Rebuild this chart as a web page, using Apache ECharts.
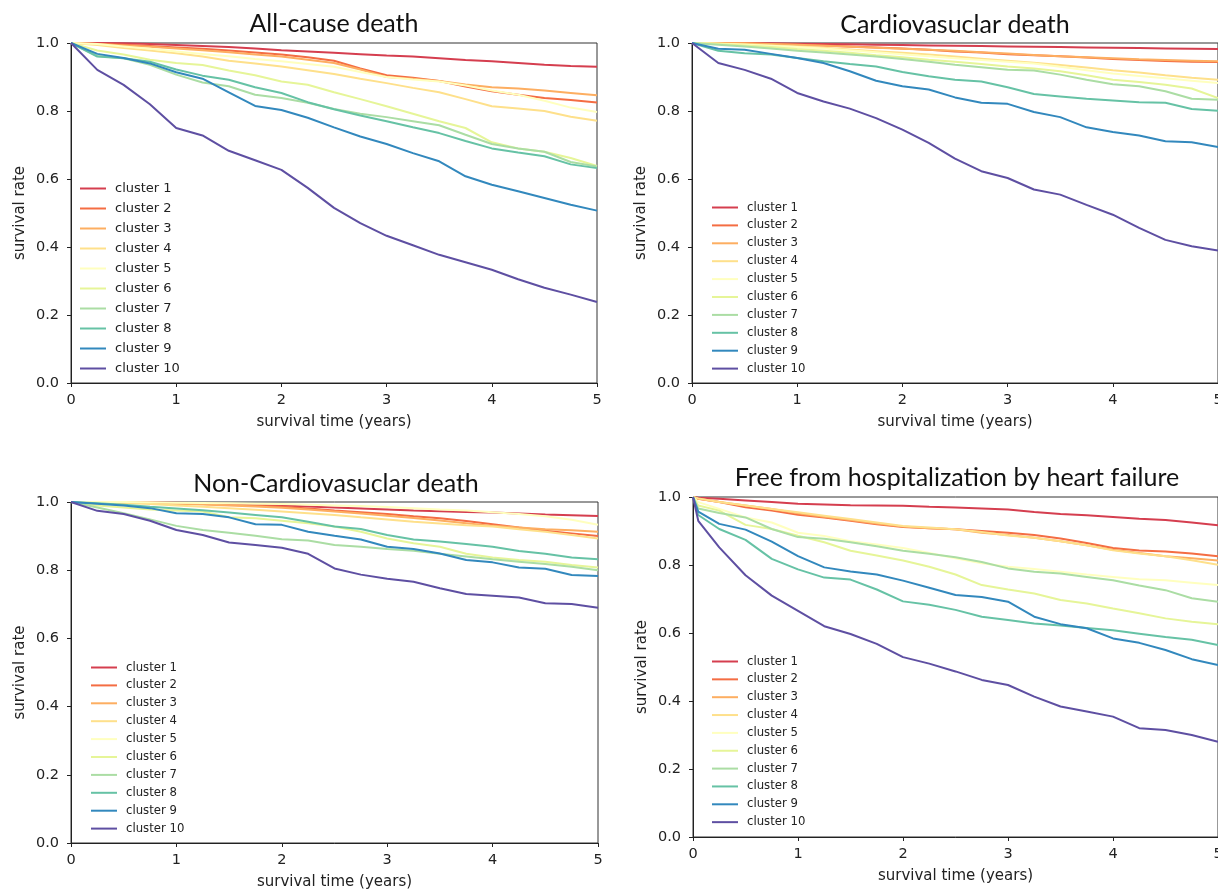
<!DOCTYPE html>
<html style="height: 100%">
<head>
	<meta charset="utf-8">
</head>
<body style="height: 100%; margin: 0; background: #fff">
<div id="container" style="width: 1218px; height: 890px"></div>
<script type="text/javascript" src="https://cdn.jsdelivr.net/npm/echarts@6/dist/echarts.min.js"></script>
<script type="text/javascript">
    // survival time (years) sample points
    var times = [0, 0.25, 0.5, 0.75, 1, 1.25, 1.5, 1.75, 2, 2.25, 2.5, 2.75, 3, 3.25, 3.5, 3.75, 4, 4.25, 4.5, 4.75, 5];
    var timesHF = [0, 0.05, 0.25, 0.5, 0.75, 1, 1.25, 1.5, 1.75, 2, 2.25, 2.5, 2.75, 3, 3.25, 3.5, 3.75, 4, 4.25, 4.5, 4.75, 5];

    var clusterNames = ['cluster 1', 'cluster 2', 'cluster 3', 'cluster 4', 'cluster 5',
        'cluster 6', 'cluster 7', 'cluster 8', 'cluster 9', 'cluster 10'];
    var yTicks = [0, 0.2, 0.4, 0.6, 0.8, 1.0];
    var titles = ['All-cause death', 'Cardiovasuclar death', 'Non-Cardiovasuclar death', 'Free from hospitalization by heart failure'];

    // survival rate per cluster (rows = cluster 1..10)
    var allCause = [
        [1, 1, 0.999, 0.997, 0.994, 0.991, 0.988, 0.984, 0.979, 0.975, 0.971, 0.967, 0.963, 0.96, 0.955, 0.95, 0.946, 0.941, 0.936, 0.932, 0.93],
        [1, 0.998, 0.995, 0.991, 0.987, 0.983, 0.978, 0.972, 0.966, 0.958, 0.948, 0.925, 0.905, 0.898, 0.888, 0.872, 0.858, 0.848, 0.838, 0.832, 0.825],
        [1, 0.997, 0.993, 0.989, 0.984, 0.979, 0.973, 0.966, 0.96, 0.951, 0.941, 0.922, 0.9, 0.895, 0.888, 0.878, 0.87, 0.866, 0.86, 0.853, 0.846],
        [1, 0.994, 0.985, 0.978, 0.97, 0.96, 0.948, 0.94, 0.931, 0.92, 0.909, 0.895, 0.882, 0.868, 0.855, 0.835, 0.814, 0.807, 0.8, 0.783, 0.771],
        [1, 0.997, 0.99, 0.983, 0.975, 0.968, 0.961, 0.953, 0.946, 0.938, 0.93, 0.915, 0.9, 0.893, 0.887, 0.875, 0.86, 0.848, 0.83, 0.81, 0.797],
        [1, 0.978, 0.966, 0.951, 0.941, 0.935, 0.919, 0.905, 0.887, 0.877, 0.855, 0.835, 0.814, 0.792, 0.77, 0.75, 0.708, 0.69, 0.68, 0.662, 0.638],
        [1, 0.962, 0.955, 0.936, 0.907, 0.884, 0.873, 0.848, 0.838, 0.824, 0.806, 0.792, 0.782, 0.77, 0.758, 0.73, 0.703, 0.69, 0.68, 0.65, 0.637],
        [1, 0.96, 0.955, 0.945, 0.922, 0.904, 0.892, 0.87, 0.853, 0.826, 0.805, 0.787, 0.77, 0.752, 0.735, 0.712, 0.69, 0.678, 0.667, 0.643, 0.632],
        [1, 0.968, 0.956, 0.94, 0.914, 0.895, 0.855, 0.815, 0.803, 0.78, 0.752, 0.725, 0.703, 0.676, 0.652, 0.608, 0.583, 0.564, 0.544, 0.524, 0.507],
        [1, 0.921, 0.877, 0.82, 0.75, 0.728, 0.683, 0.655, 0.627, 0.574, 0.515, 0.47, 0.433, 0.405, 0.377, 0.355, 0.333, 0.305, 0.28, 0.26, 0.238]
    ];
    var cardioDeath = [
        [1, 1, 1, 0.999, 0.998, 0.997, 0.996, 0.995, 0.994, 0.993, 0.992, 0.991, 0.99, 0.989, 0.988, 0.987, 0.986, 0.985, 0.984, 0.983, 0.982],
        [1, 1, 0.999, 0.997, 0.995, 0.993, 0.99, 0.987, 0.984, 0.98, 0.975, 0.972, 0.967, 0.964, 0.961, 0.957, 0.953, 0.95, 0.947, 0.945, 0.944],
        [1, 1, 0.999, 0.997, 0.995, 0.992, 0.989, 0.986, 0.983, 0.98, 0.977, 0.973, 0.969, 0.965, 0.961, 0.958, 0.955, 0.952, 0.95, 0.948, 0.946],
        [1, 0.998, 0.996, 0.993, 0.99, 0.986, 0.981, 0.976, 0.971, 0.966, 0.96, 0.954, 0.948, 0.942, 0.935, 0.928, 0.92, 0.913, 0.905, 0.898, 0.892],
        [1, 0.998, 0.995, 0.992, 0.988, 0.984, 0.979, 0.973, 0.967, 0.961, 0.955, 0.95, 0.945, 0.94, 0.93, 0.92, 0.91, 0.903, 0.896, 0.889, 0.882],
        [1, 0.997, 0.993, 0.988, 0.982, 0.977, 0.971, 0.964, 0.958, 0.951, 0.945, 0.938, 0.931, 0.925, 0.917, 0.905, 0.892, 0.885, 0.877, 0.866, 0.838],
        [1, 0.995, 0.99, 0.984, 0.977, 0.972, 0.966, 0.96, 0.953, 0.945, 0.936, 0.929, 0.921, 0.919, 0.907, 0.892, 0.879, 0.873, 0.858, 0.836, 0.833],
        [1, 0.977, 0.97, 0.966, 0.956, 0.946, 0.938, 0.931, 0.915, 0.902, 0.892, 0.887, 0.87, 0.85, 0.843, 0.836, 0.831, 0.826, 0.824, 0.806, 0.801],
        [1, 0.983, 0.98, 0.968, 0.956, 0.941, 0.917, 0.889, 0.873, 0.863, 0.84, 0.824, 0.821, 0.797, 0.782, 0.752, 0.738, 0.728, 0.711, 0.708, 0.694],
        [1, 0.941, 0.921, 0.895, 0.853, 0.828, 0.807, 0.779, 0.745, 0.706, 0.66, 0.623, 0.603, 0.569, 0.554, 0.524, 0.495, 0.456, 0.421, 0.402, 0.39]
    ];
    var nonCardioDeath = [
        [1, 1, 1, 0.999, 0.998, 0.996, 0.994, 0.992, 0.99, 0.987, 0.984, 0.981, 0.978, 0.975, 0.973, 0.971, 0.969, 0.966, 0.963, 0.961, 0.959],
        [1, 1, 0.999, 0.998, 0.996, 0.994, 0.992, 0.989, 0.986, 0.981, 0.975, 0.97, 0.965, 0.958, 0.952, 0.944, 0.935, 0.925, 0.916, 0.908, 0.9],
        [1, 1, 0.999, 0.997, 0.995, 0.993, 0.99, 0.987, 0.983, 0.978, 0.972, 0.966, 0.96, 0.953, 0.946, 0.938, 0.93, 0.925, 0.92, 0.917, 0.913],
        [1, 0.999, 0.997, 0.994, 0.99, 0.986, 0.982, 0.977, 0.972, 0.967, 0.962, 0.955, 0.949, 0.942, 0.937, 0.932, 0.928, 0.92, 0.913, 0.903, 0.893],
        [1, 1, 1, 0.999, 0.998, 0.997, 0.996, 0.995, 0.994, 0.992, 0.99, 0.988, 0.985, 0.982, 0.978, 0.975, 0.97, 0.965, 0.958, 0.948, 0.933],
        [1, 0.99, 0.984, 0.978, 0.975, 0.972, 0.955, 0.952, 0.945, 0.938, 0.928, 0.913, 0.893, 0.879, 0.869, 0.848, 0.837, 0.83, 0.825, 0.815, 0.808],
        [1, 0.984, 0.967, 0.949, 0.93, 0.918, 0.91, 0.901, 0.891, 0.887, 0.874, 0.869, 0.862, 0.857, 0.848, 0.84, 0.832, 0.825, 0.818, 0.81, 0.8],
        [1, 0.996, 0.992, 0.986, 0.981, 0.976, 0.969, 0.962, 0.955, 0.942, 0.928, 0.921, 0.903, 0.89, 0.884, 0.877, 0.869, 0.856, 0.848, 0.837, 0.832],
        [1, 0.995, 0.99, 0.982, 0.967, 0.965, 0.955, 0.935, 0.933, 0.913, 0.901, 0.89, 0.869, 0.862, 0.849, 0.83, 0.823, 0.808, 0.804, 0.786, 0.783],
        [1, 0.974, 0.965, 0.945, 0.918, 0.903, 0.881, 0.874, 0.866, 0.848, 0.805, 0.787, 0.775, 0.766, 0.747, 0.73, 0.725, 0.72, 0.703, 0.701, 0.69]
    ];
    var hfFree = [
        [1, 0.998, 0.995, 0.99, 0.985, 0.98, 0.978, 0.976, 0.975, 0.974, 0.971, 0.969, 0.966, 0.963, 0.956, 0.95, 0.946, 0.941, 0.936, 0.932, 0.925, 0.917],
        [1, 0.995, 0.985, 0.97, 0.96, 0.948, 0.94, 0.93, 0.92, 0.912, 0.908, 0.905, 0.9, 0.895, 0.888, 0.878, 0.865, 0.85, 0.843, 0.84, 0.834, 0.826],
        [1, 0.995, 0.985, 0.975, 0.965, 0.952, 0.942, 0.932, 0.922, 0.913, 0.908, 0.905, 0.895, 0.888, 0.88, 0.87, 0.858, 0.845, 0.835, 0.826, 0.82, 0.813],
        [1, 0.996, 0.985, 0.975, 0.965, 0.955, 0.945, 0.935, 0.925, 0.915, 0.91, 0.905, 0.897, 0.887, 0.88, 0.87, 0.858, 0.843, 0.834, 0.826, 0.814, 0.801],
        [1, 0.985, 0.965, 0.94, 0.925, 0.895, 0.885, 0.87, 0.86, 0.85, 0.835, 0.82, 0.805, 0.795, 0.788, 0.78, 0.772, 0.765, 0.758, 0.755, 0.748, 0.741],
        [1, 0.975, 0.96, 0.918, 0.906, 0.886, 0.867, 0.842, 0.828, 0.813, 0.795, 0.772, 0.741, 0.728, 0.716, 0.697, 0.687, 0.672, 0.658, 0.643, 0.633, 0.626],
        [1, 0.966, 0.953, 0.94, 0.906, 0.882, 0.877, 0.867, 0.855, 0.842, 0.833, 0.823, 0.809, 0.79, 0.78, 0.775, 0.765, 0.755, 0.74, 0.726, 0.702, 0.692],
        [1, 0.947, 0.906, 0.874, 0.818, 0.787, 0.763, 0.757, 0.728, 0.693, 0.683, 0.668, 0.648, 0.638, 0.628, 0.622, 0.615, 0.608, 0.598, 0.588, 0.58, 0.565],
        [1, 0.957, 0.921, 0.904, 0.869, 0.826, 0.793, 0.781, 0.772, 0.754, 0.733, 0.712, 0.706, 0.692, 0.648, 0.626, 0.614, 0.584, 0.571, 0.55, 0.523, 0.506],
        [1, 0.93, 0.852, 0.77, 0.71, 0.665, 0.62, 0.597, 0.568, 0.529, 0.51, 0.487, 0.462, 0.447, 0.413, 0.384, 0.369, 0.354, 0.32, 0.315, 0.3, 0.28]
    ];

    var colors = ['#d53e4f', '#f46d43', '#fdae61', '#fee08b', '#ffffbf',
        '#e6f598', '#abdda4', '#66c2a5', '#3288bd', '#5e4fa2'];

    var panelData = [
        {rows: allCause, t: times},
        {rows: cardioDeath, t: times},
        {rows: nonCardioDeath, t: times},
        {rows: hfFree, t: timesHF}
    ];

    var grids = [
        {left: 71, top: 43, width: 526, height: 340},
        {left: 692, top: 43, width: 526, height: 340},
        {left: 71, top: 502, width: 527, height: 341},
        {left: 693, top: 497, width: 525, height: 340}
    ];
    var titlePos = [{x: 334, y: 11}, {x: 955, y: 12}, {x: 336, y: 471}, {x: 957, y: 465}];
    var legendPos = [
        {x: 80, y: 181, size: 13, lh: 15, gap: 5},
        {x: 712, y: 201, size: 11.7, lh: 13, gap: 4.9},
        {x: 91, y: 661, size: 11.7, lh: 13, gap: 4.9},
        {x: 712, y: 655, size: 11.7, lh: 13, gap: 4.85}
    ];

    var axisColor = '#222';
    var font = 'DejaVu Sans';

    var dom = document.getElementById("container");
    var myChart = echarts.init(dom, null, {renderer: 'canvas'});

    var option = {
        backgroundColor: '#fff',
        animation: false,
        title: titles.map(function (t, i) {
            return {
                text: t,
                left: titlePos[i].x,
                top: titlePos[i].y,
                textAlign: 'center',
                padding: 0,
                textStyle: {fontFamily: 'Lato', fontWeight: 'normal', fontSize: 25, color: '#111'}
            };
        }),
        legend: legendPos.map(function (p) {
            return {
                orient: 'vertical',
                left: p.x,
                top: p.y,
                padding: 0,
                icon: 'rect',
                itemWidth: 26,
                itemHeight: 2,
                itemGap: p.gap,
                selectedMode: false,
                data: clusterNames,
                textStyle: {fontFamily: font, fontSize: p.size, lineHeight: p.lh, color: '#222', padding: [0, 0, 0, 4]}
            };
        }),
        grid: grids.map(function (g) {
            return {left: g.left, top: g.top, width: g.width, height: g.height,
                show: true, borderColor: '#333', borderWidth: 1, containLabel: false,
                outerBoundsMode: 'none'};
        }),
        xAxis: grids.map(function (g, i) {
            return {
                type: 'value', gridIndex: i, min: 0, max: 5, interval: 1,
                name: 'survival time (years)', nameLocation: 'middle', nameGap: 32,
                nameTextStyle: {fontFamily: font, fontSize: 15, color: '#222'},
                axisLine: {lineStyle: {color: axisColor, width: 1}},
                axisTick: {show: true, length: 4, lineStyle: {color: axisColor}},
                axisLabel: {fontFamily: font, fontSize: 14.5, color: '#222', margin: 10},
                splitLine: {show: false}
            };
        }),
        yAxis: grids.map(function (g, i) {
            return {
                type: 'value', gridIndex: i, min: yTicks[0], max: yTicks[yTicks.length - 1], interval: 0.2,
                name: 'survival rate', nameLocation: 'middle', nameGap: 43,
                nameTextStyle: {fontFamily: font, fontSize: 15, color: '#222'},
                axisLine: {show: true, lineStyle: {color: axisColor, width: 1}},
                axisTick: {show: true, length: 4, lineStyle: {color: axisColor}},
                axisLabel: {fontFamily: font, fontSize: 14.5, color: '#222', margin: 12,
                    formatter: function (v) { return v.toFixed(1); }},
                splitLine: {show: false}
            };
        }),
        series: []
    };

    panelData.forEach(function (p, pi) {
        p.rows.forEach(function (vals, ci) {
            option.series.push({
                name: clusterNames[ci],
                type: 'line',
                xAxisIndex: pi,
                yAxisIndex: pi,
                showSymbol: false,
                symbol: 'none',
                smooth: false,
                color: colors[ci],
                lineStyle: {width: 2, color: colors[ci]},
                data: p.t.map(function (t, k) { return [t, vals[k]]; })
            });
        });
    });

    if (option && typeof option === "object") {
        myChart.setOption(option, true);
    }
</script>
</body>
</html>
